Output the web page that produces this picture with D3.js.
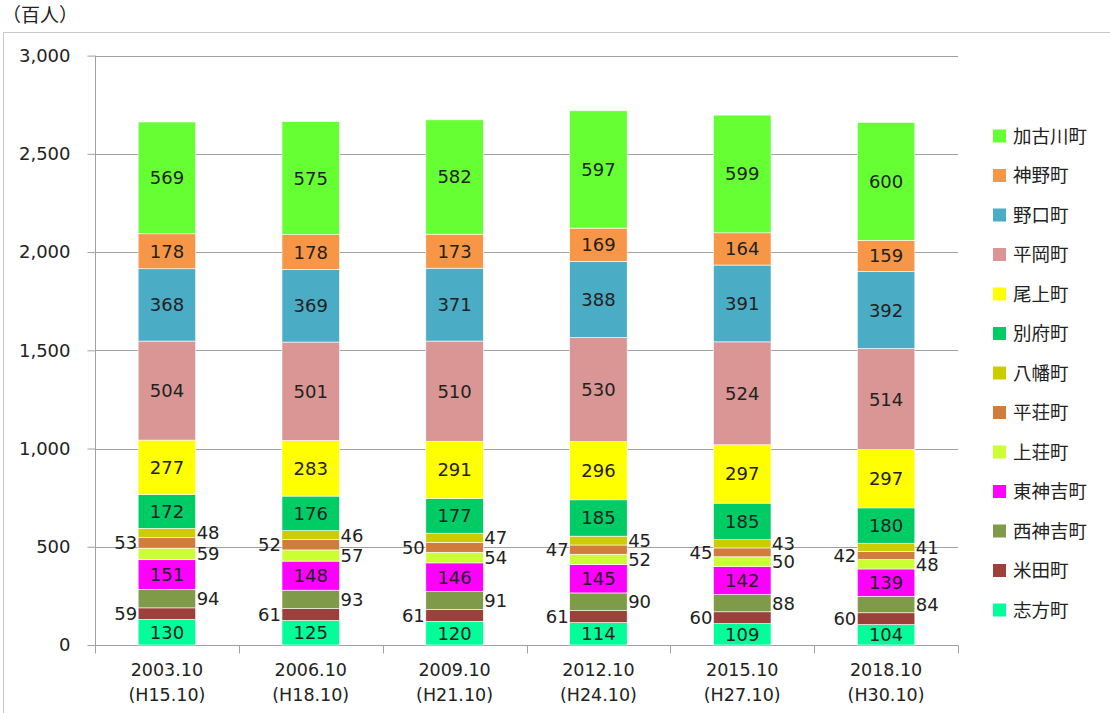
<!DOCTYPE html>
<html>
<head>
<meta charset="utf-8">
<script src="https://cdn.jsdelivr.net/npm/d3@7"></script>
<style>
body { margin: 0; background: #fff; }
text { font-family: "DejaVu Sans", "Noto Sans CJK JP", sans-serif; fill: #222; }
</style>
</head>
<body>
<svg id="chart"></svg>
<script>
var width = 1110, height = 713;

// categories (two-line labels)
var years = ["2003.10", "2006.10", "2009.10", "2012.10", "2015.10", "2018.10"];
var eras = ["(H15.10)", "(H18.10)", "(H21.10)", "(H24.10)", "(H27.10)", "(H30.10)"];

// series, bottom to top
var towns = ["志方町", "米田町", "西神吉町", "東神吉町", "上荘町", "平荘町", "八幡町",
	"別府町", "尾上町", "平岡町", "野口町", "神野町", "加古川町"];
var colors = ["#00ff99", "#9c403c", "#7f9a48", "#ff00ff", "#ccff33", "#d07c3c", "#cccc00",
	"#00cc66", "#ffff00", "#d99694", "#4bacc6", "#f79646", "#66ff33"];

var shikata = [130, 125, 120, 114, 109, 104];
var yoneda = [59, 61, 61, 61, 60, 60];
var nishikanki = [94, 93, 91, 90, 88, 84];
var higashikanki = [151, 148, 146, 145, 142, 139];
var kamiso = [59, 57, 54, 52, 50, 48];
var heiso = [53, 52, 50, 47, 45, 42];
var yahata = [48, 46, 47, 45, 43, 41];
var befu = [172, 176, 177, 185, 185, 180];
var onoe = [277, 283, 291, 296, 297, 297];
var hiraoka = [504, 501, 510, 530, 524, 514];
var noguchi = [368, 369, 371, 388, 391, 392];
var kanno = [178, 178, 173, 169, 164, 159];
var kakogawa = [569, 575, 582, 597, 599, 600];

var yTicks = [0, 500, 1000, 1500, 2000, 2500, 3000];

// where each series' value label goes: 0 inside, -1 left, 1 right
var labelSide = [0, -1, 1, 0, 1, -1, 1, 0, 0, 0, 0, 0, 0];

var seriesValues = [shikata, yoneda, nishikanki, higashikanki, kamiso, heiso, yahata,
	befu, onoe, hiraoka, noguchi, kanno, kakogawa];

var rows = years.map(function(y, i) {
	var r = {year: y, era: eras[i]};
	towns.forEach(function(t, j) { r[t] = seriesValues[j][i]; });
	return r;
});

var stack = d3.stack().keys(towns)(rows);

var svg = d3.select('#chart').attr('width', width).attr('height', height);

// outer frame
svg.append('rect')
	.attr('x', 3.5).attr('y', 32.5)
	.attr('width', width + 10).attr('height', height + 10)
	.attr('fill', 'none').attr('stroke', '#c8c8c8').attr('stroke-width', 1);

svg.append('text')
	.attr('x', 2).attr('y', 22)
	.attr('font-size', 19)
	.attr('font-family', '"Noto Sans CJK JP", sans-serif')
	.text('（百人）');

var margin = {left: 95, right: 958, top: 55.6, bottom: 645};

var x = d3.scaleBand().domain(years).range([margin.left, margin.right]).paddingInner(0.6).paddingOuter(0.3);
var xb = d3.scaleBand().domain(years).range([margin.left, margin.right]);
var y = d3.scaleLinear().domain([0, 3000]).range([margin.bottom, margin.top]);

// gridlines
svg.append('g').selectAll('line')
	.data(yTicks.slice(1))
	.enter().append('line')
	.attr('x1', margin.left).attr('x2', margin.right)
	.attr('y1', function(d) { return Math.round(y(d)) + 0.5; })
	.attr('y2', function(d) { return Math.round(y(d)) + 0.5; })
	.attr('stroke', '#a0a0a0').attr('stroke-width', 1);

// y axis
var yAxis = svg.append('g')
	.attr('transform', 'translate(' + (margin.left + 0.5) + ',0)')
	.call(d3.axisLeft(y).tickValues(yTicks).tickSize(8).tickPadding(17).tickFormat(d3.format(',')));
yAxis.select('.domain').attr('stroke', '#a0a0a0').attr('d', 'M0,' + margin.top + 'V' + margin.bottom);
yAxis.selectAll('.tick line').attr('stroke', '#a0a0a0');
yAxis.selectAll('.tick text').attr('font-size', 18).attr('fill', '#222')
	.attr('font-family', '"DejaVu Sans", sans-serif');

// x axis
var xAxis = svg.append('g')
	.attr('transform', 'translate(0,' + (Math.round(margin.bottom) + 0.5) + ')');
xAxis.append('line')
	.attr('x1', margin.left).attr('x2', margin.right)
	.attr('stroke', '#a0a0a0');
xAxis.selectAll('.tk')
	.data(years.concat(['end']))
	.enter().append('line')
	.attr('x1', function(d, i) { return Math.round(margin.left + i * xb.bandwidth()) + 0.5; })
	.attr('x2', function(d, i) { return Math.round(margin.left + i * xb.bandwidth()) + 0.5; })
	.attr('y1', 0).attr('y2', 8)
	.attr('stroke', '#a0a0a0');
var xl = xAxis.selectAll('.lbl')
	.data(rows)
	.enter().append('text')
	.attr('text-anchor', 'middle')
	.attr('font-size', 17.5);
xl.append('tspan')
	.attr('x', function(d) { return xb(d.year) + xb.bandwidth() / 2; })
	.attr('y', 30)
	.text(function(d) { return d.year; });
xl.append('tspan')
	.attr('x', function(d) { return xb(d.year) + xb.bandwidth() / 2; })
	.attr('y', 55)
	.text(function(d) { return d.era; });

// bars
var layers = svg.append('g').selectAll('g')
	.data(stack)
	.enter().append('g')
	.attr('fill', function(d, i) { return colors[i]; });

layers.selectAll('rect')
	.data(function(d) { return d; })
	.enter().append('rect')
	.attr('x', function(d) { return x(d.data.year); })
	.attr('width', x.bandwidth())
	.attr('y', function(d) { return y(d[1]); })
	.attr('height', function(d) { return y(d[0]) - y(d[1]); })
	.attr('stroke', '#ffffff').attr('stroke-width', 0.6);

// value labels
layers.each(function(layer, i) {
	d3.select(this).selectAll('text')
		.data(layer)
		.enter().append('text')
		.attr('font-size', 18)
		.attr('dy', '0.36em')
		.attr('text-anchor', labelSide[i] === 0 ? 'middle' : (labelSide[i] < 0 ? 'end' : 'start'))
		.attr('x', function(d) {
			if (labelSide[i] === 0) return x(d.data.year) + x.bandwidth() / 2;
			if (labelSide[i] < 0) return x(d.data.year) - 1;
			return x(d.data.year) + x.bandwidth() + 1;
		})
		.attr('y', function(d) { return y((d[0] + d[1]) / 2); })
		.text(function(d) { return d[1] - d[0]; });
});

// legend (top to bottom = reverse of stack)
var legend = svg.append('g').selectAll('g')
	.data(towns.slice().reverse())
	.enter().append('g')
	.attr('transform', function(d, i) { return 'translate(993,' + (136 + i * 39.5) + ')'; });
legend.append('rect')
	.attr('x', 0).attr('y', -6.5)
	.attr('width', 13).attr('height', 13)
	.attr('fill', function(d, i) { return colors[towns.length - 1 - i]; });
legend.append('text')
	.attr('x', 20).attr('dy', '0.36em')
	.attr('font-size', 18.5)
	.attr('font-family', '"Noto Sans CJK JP", sans-serif')
	.text(function(d) { return d; });
</script>
</body>
</html>
